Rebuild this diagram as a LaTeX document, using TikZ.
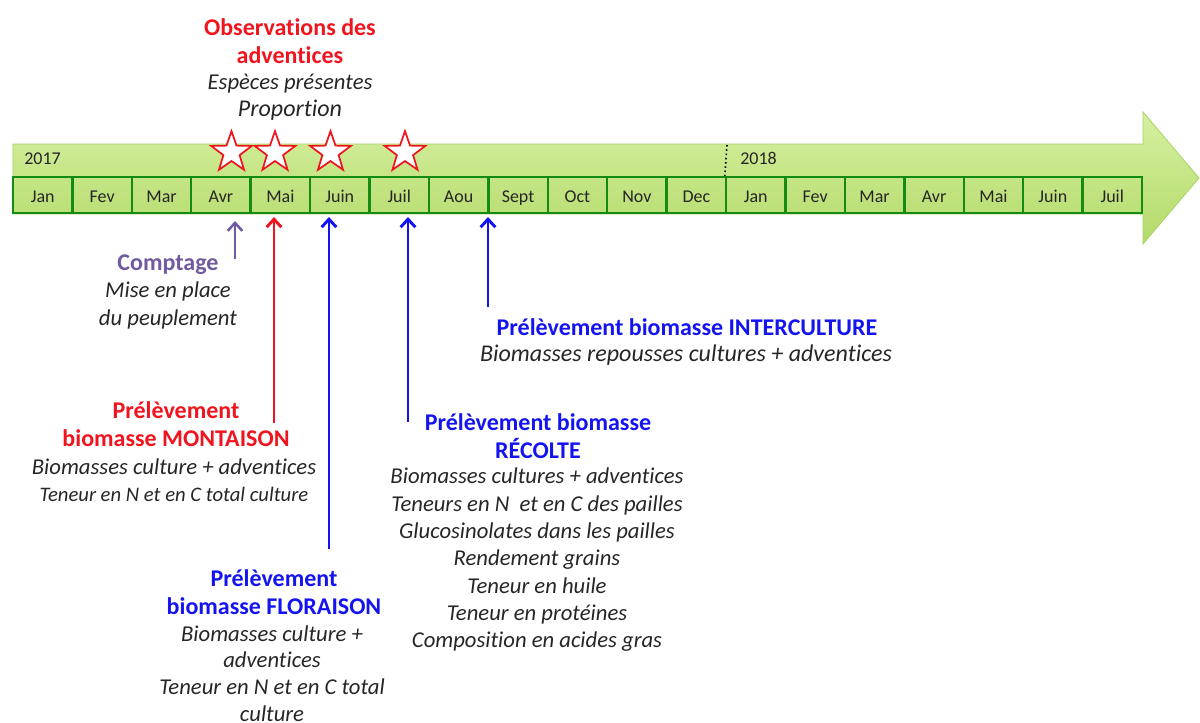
\documentclass[tikz,border=0pt]{standalone}
\usepackage{fontspec}
\setmainfont{Carlito}[Ligatures={NoCommon,NoRare,NoDiscretionary}]
\usetikzlibrary{shapes.geometric,arrows.meta}
\definecolor{tred}{RGB}{240,20,30}
\definecolor{tblue}{RGB}{20,20,240}
\definecolor{tpurple}{RGB}{112,90,160}
\definecolor{tgray}{RGB}{38,38,38}
\definecolor{cellgreen}{RGB}{20,140,20}
\definecolor{shafttop}{RGB}{214,240,160}
\definecolor{shaftbot}{RGB}{180,218,106}
\definecolor{shaftline}{RGB}{170,210,100}
\begin{document}
\begin{tikzpicture}[x=0.75pt,y=-0.75pt,
  cell/.style={draw=cellgreen, line width=1.8pt, minimum width=44.55pt, minimum height=27pt, inner sep=0pt, text height=11.5pt, text depth=0pt, font=\fontsize{13.5}{16}\selectfont, text=tgray},
  yearlbl/.style={font=\fontsize{13.5}{16}\selectfont, text=tgray, inner sep=0pt, anchor=west},
  head/.style={font=\bfseries\fontsize{18}{21}\selectfont, align=center, inner sep=0pt},
  detail/.style={font=\itshape\fontsize{17}{20.5}\selectfont, align=center, text=tgray, inner sep=0pt},
  marker/.style={star, star points=5, star point ratio=2.5, minimum size=32pt, inner sep=0pt, draw=tred, fill=white, line width=1.3pt},
  pin/.style={line width=2.2pt, -{Straight Barb[length=6pt,width=11pt]}}
]
\useasboundingbox (0,0) rectangle (1200,722);
% big arrow
\shade[top color=shafttop,bottom color=shaftbot, draw=shaftline, line width=0.6pt]
  (13,144) -- (1143,144) -- (1143,112) -- (1199,178) -- (1143,244) -- (1143,214) -- (13,214) -- cycle;
% months
\foreach \m [count=\i] in {Jan,Fev,Mar,Avr,Mai,Juin,Juil,Aou,Sept,Oct,Nov,Dec,Jan,Fev,Mar,Avr,Mai,Juin,Juil}
  \node[cell] (m\i) at ({13+59.42*(\i-0.5)},195) {\m};
\node[yearlbl] (y17) at (24,158.5) {2017};
\node[yearlbl] (y18) at (740,158.5) {2018};
\coordinate (dtop) at (727,145);
\draw[dotted, line width=1.2pt] (dtop) -- (m13.north west);
% stars
\node[marker] (s1) at (231.5,152.5) {};
\node[marker] (s2) at (275,152.5) {};
\node[marker] (s3) at (330.5,152.5) {};
\node[marker] (s4) at (405,152.5) {};
% texts
\node[head, text=tred] (obsT) at (290,41) {Observations des\\adventices};
\node[detail] (obsD) at (290,97.5) {Espèces présentes\\ \fontsize{18}{21}\selectfont Proportion};
\node[head, text=tpurple] (compT) at (168,265) {Comptage};
\node[detail] (compD) at (168,305.5) {Mise en place\\du peuplement};
\node[head, text=tred] (montT) at (176,424) {Prélèvement\\biomasse MONTAISON};
\node[detail] (montD) at (174,480) {Biomasses culture + adventices\\ \fontsize{15.5}{19}\selectfont Teneur en N et en C total culture};
\node[head, text=tblue] (florT) at (274,592.5) {Prélèvement\\biomasse FLORAISON};
\node[detail, font=\itshape\fontsize{17}{20}\selectfont] (florD) at (272,673.5) {Biomasses culture +\\adventices\\Teneur en N et en C total\\culture};
\node[head, text=tblue] (recT) at (538,436) {Prélèvement biomasse\\RÉCOLTE};
\node[detail] (recD) at (537,560) {Biomasses cultures + adventices\\Teneurs en N~ et en C des pailles\\Glucosinolates dans les pailles\\Rendement grains\\Teneur en huile\\Teneur en protéines\\Composition en acides gras};
\node[head, text=tblue] (intT) at (687,327) {Prélèvement biomasse INTERCULTURE};
\node[detail, font=\itshape\fontsize{18}{21}\selectfont] (intD) at (686,355) {Biomasses repousses cultures + adventices};
% arrows
\coordinate (pB) at (235,259); \coordinate (pT) at (235,221);
\coordinate (rB) at (274,423); \coordinate (rT) at (274,217);
\coordinate (b1B) at (329,549); \coordinate (b1T) at (329,217);
\coordinate (b2B) at (408,422); \coordinate (b2T) at (408,217);
\coordinate (b3B) at (488,307); \coordinate (b3T) at (488,217);
\draw[pin, draw=tpurple, line width=1.9pt] (pB) -- (pT);
\draw[pin, draw=tred] (rB) -- (rT);
\draw[pin, draw=tblue] (b1B) -- (b1T);
\draw[pin, draw=tblue] (b2B) -- (b2T);
\draw[pin, draw=tblue] (b3B) -- (b3T);
\end{tikzpicture}
\end{document}
